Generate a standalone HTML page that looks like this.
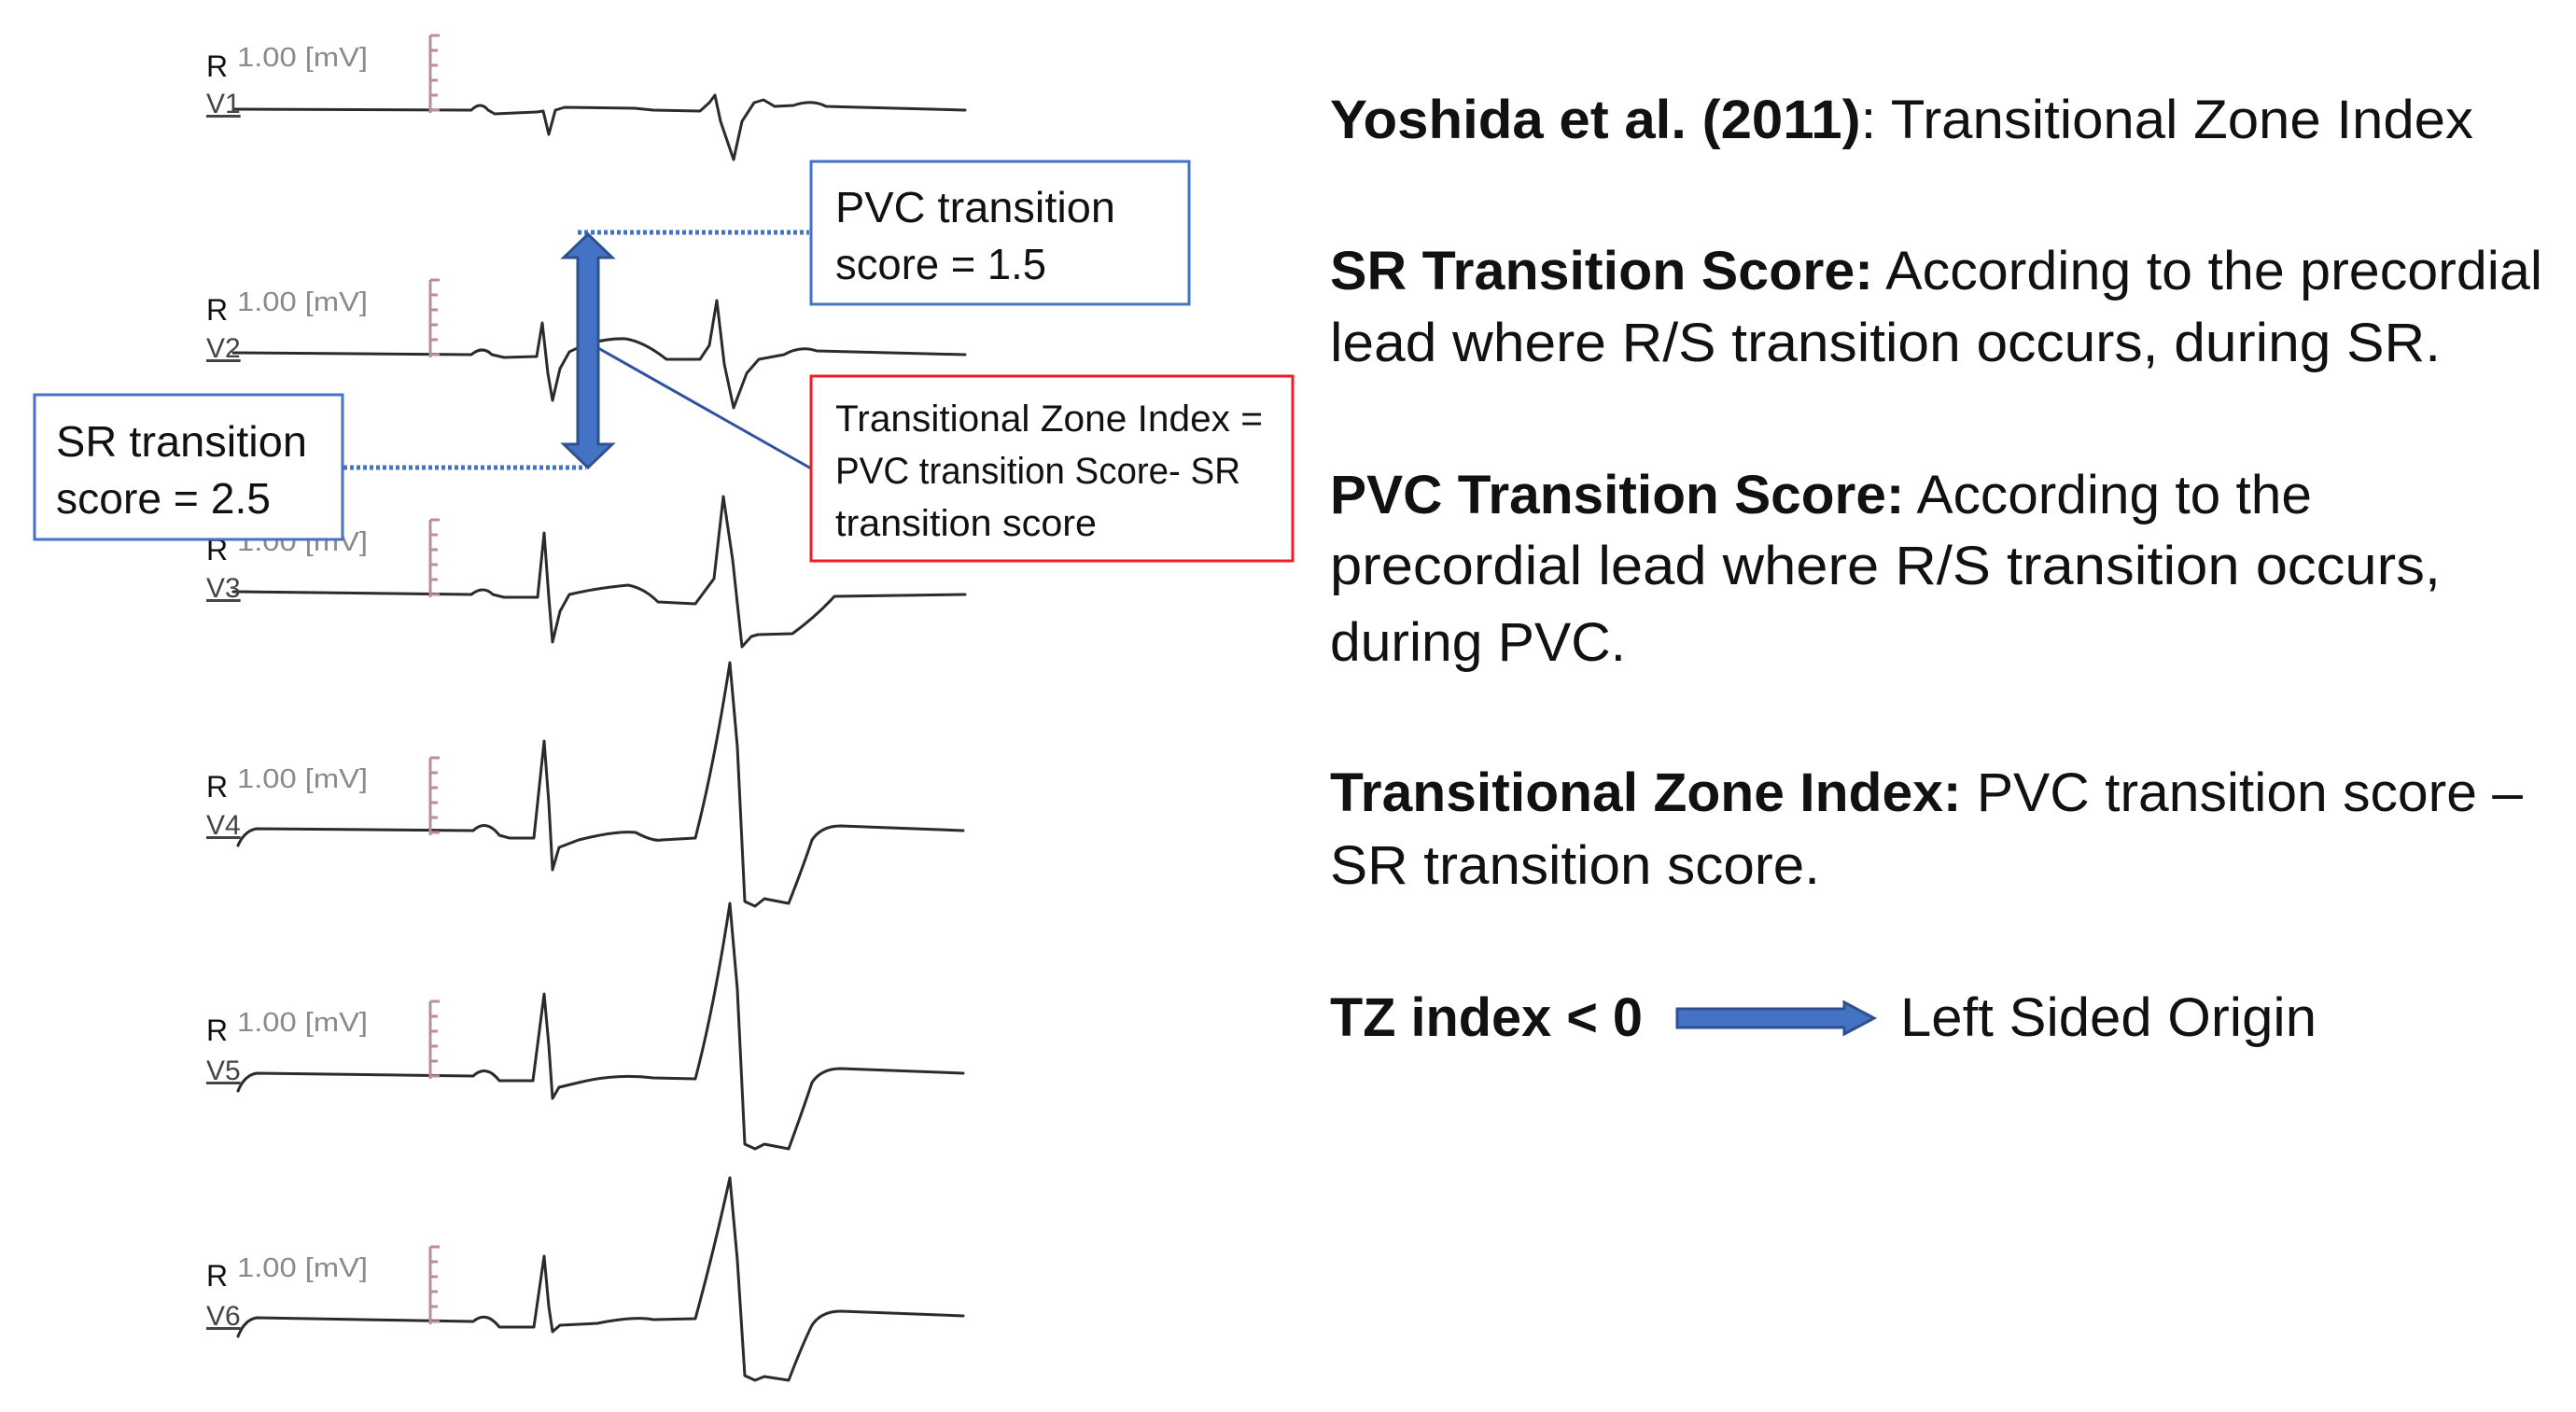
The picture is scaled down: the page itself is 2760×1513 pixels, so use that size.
<!DOCTYPE html>
<html><head><meta charset="utf-8"><style>
html,body{margin:0;padding:0;background:#fff;}
svg{display:block;}
text{font-family:"Liberation Sans",sans-serif;}
</style></head><body>
<svg width="2760" height="1513" viewBox="0 0 2760 1513" xmlns="http://www.w3.org/2000/svg">
<rect width="2760" height="1513" fill="#fff"/>
<g fill="none" stroke="#2b2b2b" stroke-width="3" stroke-linejoin="round" stroke-linecap="round">
<path d="M250,117 L505,118 Q515,108 523,118 L530,122 L575,120 L582,119 L588,144 L595,118 L605,115 L680,116 L700,118 L750,119 L760,110 L766,102 L772,130 L786,171 L795,130 L808,110 L818,107 L830,114 L850,113 Q870,106 885,114 L1034,118"/>
<path d="M250,378 L505,380 Q517,370 527,380 L540,383 L575,382 L581,346 L587,400 L592,429 L600,395 L610,377 Q640,362 670,363 Q690,366 714,385 L750,385 L760,370 L768,322 L776,390 L786,437 L800,400 L813,385 L840,380 Q858,370 875,376 L1034,380"/>
<path d="M250,634 L505,637 Q518,627 528,637 L540,640 L576,640 L583,571 L588,640 L592,688 L600,655 L610,637 Q640,630 673,627 Q690,630 705,645 L745,647 L765,620 L775,532 L785,600 L795,693 L805,682 L812,680 L849,679 Q875,660 894,639 L1034,637"/>
<path d="M255,906 Q262,890 275,888 L507,890 Q521,877 535,895 L546,898 L572,898 L583,794 L588,860 L592,932 L599,908 L620,900 Q660,890 681,892 Q700,902 709,900 L745,898 Q765,820 782,710 L790,800 L798,966 L809,971 L819,963 L845,968 Q860,930 870,900 Q880,885 901,885 L1032,890"/>
<path d="M255,1169 Q262,1152 275,1150 L507,1153 Q521,1140 535,1158 L571,1158 L583,1065 L588,1120 L592,1177 L599,1165 L620,1160 Q660,1150 700,1155 L745,1156 Q765,1080 782,968 L790,1060 L798,1226 L809,1231 L819,1226 L845,1231 Q860,1190 870,1160 Q880,1145 901,1145 L1032,1150"/>
<path d="M255,1432 Q262,1414 275,1412 L507,1416 Q521,1404 535,1422 L572,1422 L583,1346 L588,1400 L592,1427 L600,1420 L640,1418 Q680,1410 700,1414 L745,1413 Q765,1340 782,1262 L790,1350 L798,1474 L809,1479 L819,1475 L845,1479 Q860,1440 870,1420 Q880,1405 901,1405 L1032,1410"/>
</g>
<g stroke="#b88f98" stroke-width="3" fill="none">
<path d="M461,38v83 M461,38h10 M461,54h8 M461,70h8 M461,86h8 M461,102h8 M461,118h10"/>
<path d="M461,300v83 M461,300h10 M461,316h8 M461,332h8 M461,348h8 M461,364h8 M461,380h10"/>
<path d="M461,557v83 M461,557h10 M461,573h8 M461,589h8 M461,605h8 M461,621h8 M461,637h10"/>
<path d="M461,812v83 M461,812h10 M461,828h8 M461,844h8 M461,860h8 M461,876h8 M461,892h10"/>
<path d="M461,1073v83 M461,1073h10 M461,1089h8 M461,1105h8 M461,1121h8 M461,1137h8 M461,1153h10"/>
<path d="M461,1336v83 M461,1336h10 M461,1352h8 M461,1368h8 M461,1384h8 M461,1400h8 M461,1416h10"/>
</g>
<g font-size="32" fill="#111">
<text x="221" y="82">R</text><text x="221" y="343">R</text><text x="221" y="600">R</text>
<text x="221" y="854">R</text><text x="221" y="1115">R</text><text x="221" y="1378">R</text>
</g>
<g font-size="29" fill="#8a8a8a">
<text x="254" y="71" textLength="140" lengthAdjust="spacingAndGlyphs">1.00 [mV]</text>
<text x="254" y="333" textLength="140" lengthAdjust="spacingAndGlyphs">1.00 [mV]</text>
<text x="254" y="590" textLength="140" lengthAdjust="spacingAndGlyphs">1.00 [mV]</text>
<text x="254" y="844" textLength="140" lengthAdjust="spacingAndGlyphs">1.00 [mV]</text>
<text x="254" y="1105" textLength="140" lengthAdjust="spacingAndGlyphs">1.00 [mV]</text>
<text x="254" y="1368" textLength="140" lengthAdjust="spacingAndGlyphs">1.00 [mV]</text>
</g>
<g font-size="30" fill="#444" text-decoration="underline">
<text x="221" y="121">V1</text><text x="221" y="383">V2</text><text x="221" y="640">V3</text>
<text x="221" y="894">V4</text><text x="221" y="1157">V5</text><text x="221" y="1420">V6</text>
</g>
<g stroke="#4472c4" stroke-width="5" stroke-dasharray="4,3">
<line x1="619" y1="249" x2="867" y2="249"/>
<line x1="368" y1="501" x2="628" y2="501"/>
</g>
<line x1="641" y1="373" x2="869" y2="502" stroke="#2f52a0" stroke-width="3"/>
<path d="M630,251 L656,276 L641,276 L641,476 L656,476 L630,501 L604,476 L619,476 L619,276 L604,276 Z" fill="#4472c4" stroke="#2f528f" stroke-width="3" stroke-linejoin="miter"/>
<rect x="869" y="173" width="405" height="153" fill="#fff" stroke="#4472c4" stroke-width="3"/>
<rect x="37" y="423" width="330" height="155" fill="#fff" stroke="#4472c4" stroke-width="3"/>
<rect x="869" y="403" width="516" height="198" fill="#fff" stroke="#ee1c25" stroke-width="3"/>
<g font-size="46" fill="#111">
<text x="895" y="238" textLength="300" lengthAdjust="spacingAndGlyphs">PVC transition</text>
<text x="895" y="299" textLength="226" lengthAdjust="spacingAndGlyphs">score = 1.5</text>
<text x="60" y="489" textLength="269" lengthAdjust="spacingAndGlyphs">SR transition</text>
<text x="60" y="550" textLength="230" lengthAdjust="spacingAndGlyphs">score = 2.5</text>
</g>
<g font-size="40" fill="#111">
<text x="895" y="462" textLength="458" lengthAdjust="spacingAndGlyphs">Transitional Zone Index =</text>
<text x="895" y="518" textLength="434" lengthAdjust="spacingAndGlyphs">PVC transition Score- SR</text>
<text x="895" y="574" textLength="280" lengthAdjust="spacingAndGlyphs">transition score</text>
</g>
<g font-size="58" fill="#111">
<text x="1425" y="148" textLength="1225" lengthAdjust="spacingAndGlyphs"><tspan font-weight="bold">Yoshida et al. (2011)</tspan>: Transitional Zone Index</text>
<text x="1425" y="310" textLength="1299" lengthAdjust="spacingAndGlyphs"><tspan font-weight="bold">SR Transition Score:</tspan> According to the precordial</text>
<text x="1425" y="387" textLength="1190" lengthAdjust="spacingAndGlyphs">lead where R/S transition occurs, during SR.</text>
<text x="1425" y="550" textLength="1052" lengthAdjust="spacingAndGlyphs"><tspan font-weight="bold">PVC Transition Score:</tspan> According to the</text>
<text x="1425" y="626" textLength="1190" lengthAdjust="spacingAndGlyphs">precordial lead where R/S transition occurs,</text>
<text x="1425" y="708" textLength="317" lengthAdjust="spacingAndGlyphs">during PVC.</text>
<text x="1425" y="869" textLength="1278" lengthAdjust="spacingAndGlyphs"><tspan font-weight="bold">Transitional Zone Index:</tspan> PVC transition score –</text>
<text x="1425" y="947" textLength="525" lengthAdjust="spacingAndGlyphs">SR transition score.</text>
<text x="1425" y="1110" textLength="335" lengthAdjust="spacingAndGlyphs" font-weight="bold">TZ index &lt; 0</text>
<text x="2036" y="1110" textLength="446" lengthAdjust="spacingAndGlyphs">Left Sided Origin</text>
</g>
<path d="M1797,1081 L1976,1081 L1976,1074 L2008,1091 L1976,1108 L1976,1101 L1797,1101 Z" fill="#4472c4" stroke="#2f528f" stroke-width="3"/>
</svg>
</body></html>
